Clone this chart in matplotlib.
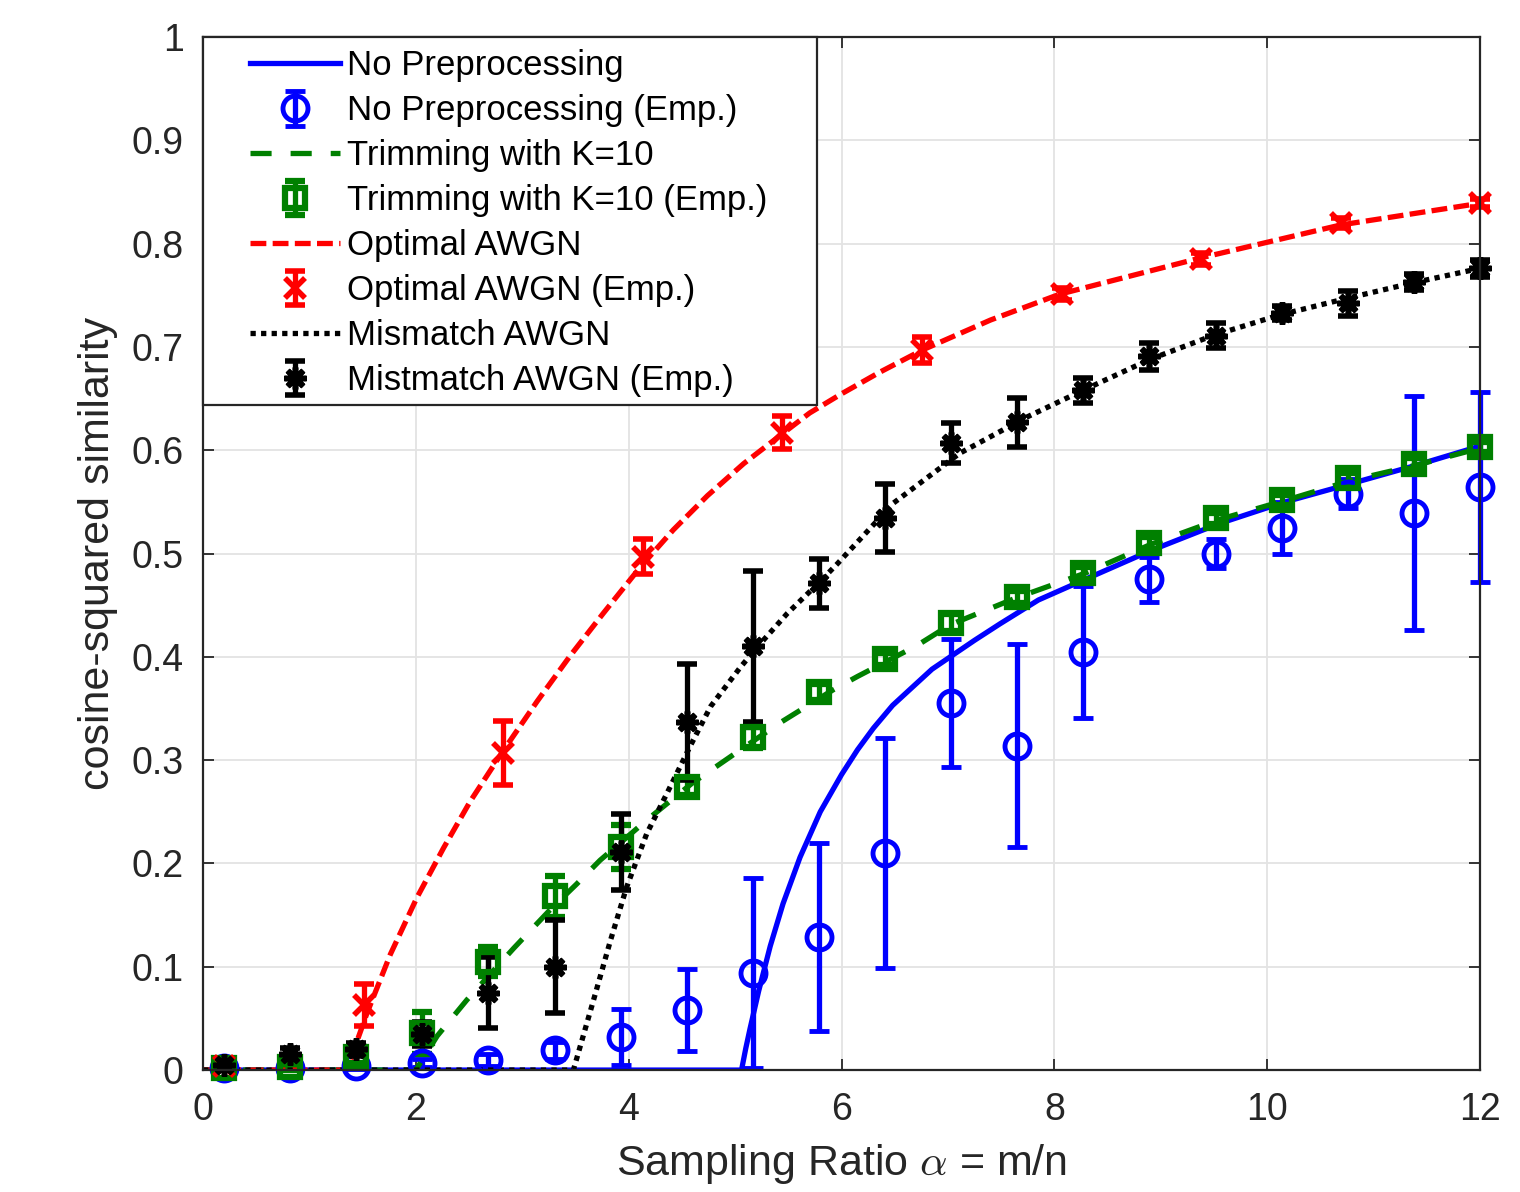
import matplotlib
matplotlib.use('Agg')
import matplotlib.pyplot as plt
from matplotlib.patches import Rectangle

plt.rcParams['font.family'] = ['Liberation Sans', 'DejaVu Sans']
plt.rcParams['mathtext.fontset'] = 'cm'

# ---------------- data ----------------
alpha_emp = [0.2, 0.82, 1.44, 2.06, 2.68, 3.31, 3.93, 4.55, 5.17, 5.79,
             6.41, 7.03, 7.65, 8.27, 8.89, 9.52, 10.14, 10.76, 11.38, 12.0]
alpha_emp_red = [0.2, 1.51, 2.82, 4.13, 5.44, 6.76, 8.07, 9.38, 10.69, 12.0]

# No preprocessing
nopre_theory_a = [0, 5.06, 5.10, 5.14, 5.22, 5.33, 5.45, 5.61, 5.80, 6.00, 6.15, 6.30,
                  6.48, 6.67, 6.85, 7.05, 7.25, 7.49, 7.85, 8.29, 8.91, 9.55, 10.17,
                  10.80, 11.42, 12.0]
nopre_theory_v = [0, 0, 0.021, 0.040, 0.076, 0.120, 0.161, 0.206, 0.250, 0.286, 0.310, 0.331,
                  0.353, 0.371, 0.388, 0.402, 0.416, 0.432, 0.455, 0.475, 0.503, 0.529,
                  0.550, 0.568, 0.586, 0.604]
nopre_emp = [0.002, 0.002, 0.004, 0.007, 0.010, 0.019, 0.032, 0.058, 0.094, 0.129,
             0.210, 0.355, 0.314, 0.405, 0.475, 0.500, 0.525, 0.558, 0.539, 0.564]
nopre_err = [0.002, 0.002, 0.003, 0.004, 0.006, 0.008, 0.027, 0.040, 0.092, 0.091,
             0.111, 0.062, 0.098, 0.064, 0.022, 0.014, 0.025, 0.014, 0.113, 0.092]

# Trimming with K=10
trim_theory_a = [0, 2.0, 2.2, 2.48, 2.92, 3.26, 3.51, 3.73, 4.17, 4.6, 5.05, 5.42, 5.92,
                 6.15, 6.71, 7.02, 7.64, 8.29, 8.91, 9.55, 10.19, 10.8, 11.42, 12.0]
trim_theory_v = [0, 0, 0.033, 0.068, 0.118, 0.155, 0.180, 0.203, 0.242, 0.278, 0.31, 0.336,
                 0.368, 0.381, 0.411, 0.431, 0.457, 0.481, 0.509, 0.533, 0.552, 0.571,
                 0.586, 0.602]
trim_emp = [0.002, 0.003, 0.013, 0.036, 0.105, 0.168, 0.216, 0.274, 0.322, 0.366,
            0.398, 0.433, 0.458, 0.481, 0.510, 0.534, 0.552, 0.573, 0.587, 0.603]
trim_err = [0.002, 0.003, 0.006, 0.020, 0.014, 0.020, 0.021, 0.008, 0.010, 0.008,
            0.006, 0.008, 0.006, 0.006, 0.006, 0.005, 0.005, 0.005, 0.005, 0.005]

# Optimal AWGN
opt_theory_a = [0, 1.35, 1.54, 1.76, 2.01, 2.26, 2.51, 2.82, 3.14, 3.45, 3.76, 4.11,
                4.42, 4.74, 5.08, 5.42, 5.70, 5.99, 6.35, 6.76, 7.40, 8.05, 9.37,
                10.69, 12.0]
opt_theory_v = [0, 0, 0.055, 0.112, 0.167, 0.215, 0.260, 0.309, 0.357, 0.401, 0.442, 0.487,
                0.523, 0.556, 0.587, 0.614, 0.636, 0.654, 0.675, 0.697, 0.726, 0.751,
                0.786, 0.818, 0.839]
opt_emp = [0.004, 0.063, 0.307, 0.497, 0.617, 0.697, 0.751, 0.785, 0.820, 0.839]
opt_err = [0.003, 0.020, 0.031, 0.017, 0.016, 0.013, 0.006, 0.006, 0.005, 0.004]

# Mismatch AWGN
mis_theory_a = [0, 3.48, 3.67, 3.83, 3.98, 4.17, 4.36, 4.58, 4.77, 5.05, 5.23, 5.49,
                5.77, 5.96, 6.49, 7.11, 7.74, 8.27, 8.9, 9.49, 10.12, 10.75, 11.37, 12.0]
mis_theory_v = [0, 0, 0.068, 0.126, 0.177, 0.229, 0.268, 0.314, 0.352, 0.39, 0.412, 0.442,
                0.470, 0.49, 0.549, 0.597, 0.632, 0.658, 0.688, 0.711, 0.731, 0.747,
                0.762, 0.776]
mis_emp = [0.005, 0.016, 0.020, 0.035, 0.075, 0.100, 0.211, 0.337, 0.410, 0.471,
           0.534, 0.607, 0.627, 0.658, 0.691, 0.711, 0.733, 0.742, 0.763, 0.776]
mis_err = [0.004, 0.005, 0.006, 0.012, 0.034, 0.045, 0.037, 0.056, 0.073, 0.024,
           0.033, 0.019, 0.024, 0.012, 0.013, 0.012, 0.007, 0.012, 0.008, 0.008]

x_ticks = [0, 2, 4, 6, 8, 10, 12]
y_ticks = [0, 0.1, 0.2, 0.3, 0.4, 0.5, 0.6, 0.7, 0.8, 0.9, 1.0]
y_ticklabels = ['0', '0.1', '0.2', '0.3', '0.4', '0.5', '0.6', '0.7', '0.8', '0.9', '1']

labels = ['No Preprocessing', 'No Preprocessing (Emp.)',
          'Trimming with K=10', 'Trimming with K=10 (Emp.)',
          'Optimal AWGN', 'Optimal AWGN (Emp.)',
          'Mismatch AWGN', 'Mistmatch AWGN (Emp.)']

# ---------------- figure ----------------
fig = plt.figure(figsize=(15.2, 11.92), dpi=100)
ax = fig.add_axes([0.1336, 0.1023, 0.8401, 0.8667])

LW = 3.8
eb_kw = dict(linestyle='none', elinewidth=LW, capsize=7, capthick=LW)

blue = '#0000ff'
green = '#008000'
red = '#ff0000'
black = '#000000'

h1, = ax.plot(nopre_theory_a, nopre_theory_v, color=blue, lw=LW, ls='-')
h2 = ax.errorbar(alpha_emp, nopre_emp, yerr=nopre_err, color=blue, marker='o',
                 markersize=18, mfc='none', mew=3.5, **eb_kw)
h3, = ax.plot(trim_theory_a, trim_theory_v, color=green, lw=LW, dashes=(4, 3.6))
h4 = ax.errorbar(alpha_emp, trim_emp, yerr=trim_err, color=green, marker='s',
                 markersize=14, mfc='none', mew=4.5, **eb_kw)
h5, = ax.plot(opt_theory_a, opt_theory_v, color=red, lw=LW, dashes=(3, 1.2))
h6 = ax.errorbar(alpha_emp_red, opt_emp, yerr=opt_err, color=red, marker='x',
                 markersize=14, mew=4, **eb_kw)
h7, = ax.plot(mis_theory_a, mis_theory_v, color=black, lw=LW, dashes=(1, 1))
h8 = ax.errorbar(alpha_emp, mis_emp, yerr=mis_err, color=black, marker=(8, 2, 0),
                 markersize=16, mew=4, **eb_kw)

for h in (h2, h4, h6, h8):
    for child in h.get_children():
        child.set_clip_on(False)

ax.set_xlim(0, 12)
ax.set_ylim(0, 1)
ax.set_xticks(x_ticks)
ax.set_xticklabels([str(t) for t in x_ticks])
ax.set_yticks(y_ticks)
ax.set_yticklabels(y_ticklabels)
ax.tick_params(axis='both', direction='in', top=True, right=True, length=8,
               width=1.3, labelsize=27, colors='#262626', pad=14)
ax.tick_params(axis='x', pad=16)
ax.grid(True, color='#e3e3e3', lw=1.3)
ax.set_axisbelow(True)
for s in ax.spines.values():
    s.set_color('#262626')
    s.set_linewidth(1.6)

ax.set_xlabel(r'Sampling Ratio $\alpha$ = m/n', fontsize=31, color='#262626', labelpad=10)
ax.set_ylabel('cosine-squared similarity', fontsize=31, color='#262626', labelpad=10)

# legend box
rect = Rectangle((0, 0.6438), 0.4808, 1 - 0.6438, transform=ax.transAxes,
                 facecolor='white', edgecolor='#262626', lw=1.6, zorder=5, clip_on=False)
ax.add_patch(rect)
leg = ax.legend([h1, h2, h3, h4, h5, h6, h7, h8], labels, loc='upper left',
                bbox_to_anchor=(0.0368, 0.988), borderaxespad=0, borderpad=0,
                frameon=False, fontsize=25, handlelength=2.6, handletextpad=0.2,
                labelspacing=0.345)
leg.set_zorder(6)

fig.savefig('out.png', dpi=100)
